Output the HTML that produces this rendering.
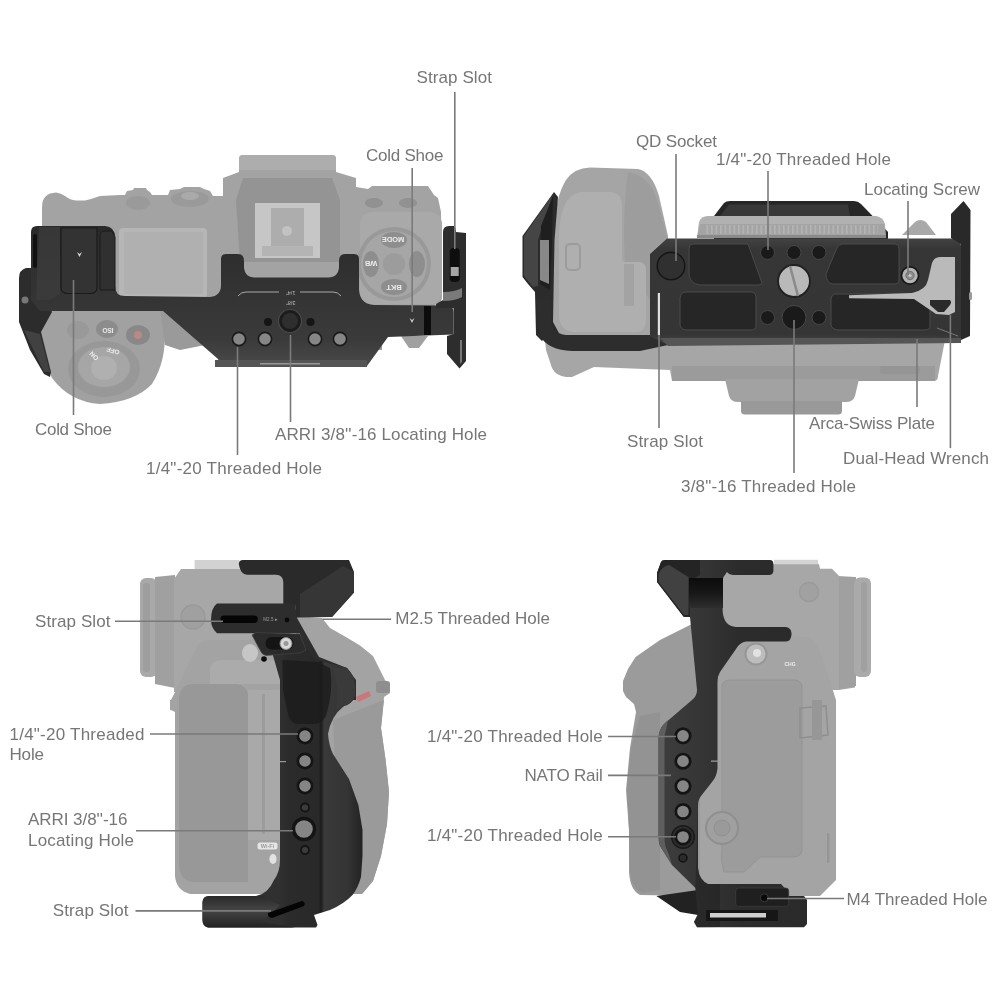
<!DOCTYPE html>
<html lang="en">
<head>
<meta charset="utf-8">
<title>Camera Cage Feature Diagram</title>
<style>
html,body{margin:0;padding:0;background:#fff;}
body{width:1000px;height:1000px;overflow:hidden;}
svg{display:block;will-change:transform;}
.lbl text{font-family:"Liberation Sans",sans-serif;font-size:17px;fill:#767676;}
.ln line,.ln polyline{stroke:#7a7a7a;stroke-width:1.6;fill:none;}
</style>
</head>
<body>
<svg width="1000" height="1000" viewBox="0 0 1000 1000">
<rect width="1000" height="1000" fill="#fff"/>

<!-- Q1: top view -->
<g id="q1">
<defs>
<linearGradient id="g1bar" x1="0" y1="0" x2="0" y2="1"><stop offset="0" stop-color="#2b2b2b"/><stop offset="1" stop-color="#3c3c3c"/></linearGradient>
<linearGradient id="g1pl" x1="0" y1="0" x2="0" y2="1"><stop offset="0" stop-color="#2a2a2a"/><stop offset="0.8" stop-color="#3a3a3a"/><stop offset="1" stop-color="#4a4a4a"/></linearGradient>
</defs>
<!-- camera body -->
<path fill="#a3a3a3" d="M42,208 L42.5,202 Q44,196 50,193.5 L56,192.5 Q61,193 65,196 Q70,200 76,200.5 L85,200.5 Q92,199 100,196 L120,195 L125,195 L127,191 L133,190 L134,188 L146,188 L147,190 L150,192 L152,195 L168,195 L170,190 L180,189 L184,187 L200,187 L204,189 L210,191 L213,196 L223,196 L223,178 L239,172 L239,159 Q239,155 243,155 L332,155 Q336,155 336,159 L336,172 L356,178 L356,187 L368,189 L372,186 L428,186 L434,195 L438,198 L441,212 L442,297 Q442,303 436,304 L420,330 L60,330 L42,300 Z"/>
<!-- viewfinder darker step -->
<path fill="#949494" d="M243,178 L332,178 L340,200 L340,262 L240,262 L236,200 Z"/><path fill="#adadad" d="M243,155 L332,155 Q336,155 336,159 L336,170 L239,170 L239,159 Q239,155 243,155 Z"/>
<!-- hot shoe -->
<rect x="255" y="203" width="65" height="55" fill="#c6c6c6"/>
<rect x="271" y="208" width="33" height="44" fill="#adadad"/><rect x="262" y="246" width="51" height="10" fill="#b4b4b4"/>
<circle cx="287" cy="231" r="5" fill="#c2c2c2"/>
<!-- LCD -->
<rect x="119" y="228" width="88" height="70" rx="4" fill="#b6b6b6"/>
<rect x="124" y="232" width="79" height="62" rx="2" fill="#b0b0b0"/>
<!-- left dials -->
<ellipse cx="138" cy="203" rx="12" ry="7" fill="#9a9a9a"/>
<ellipse cx="190" cy="199" rx="19" ry="8" fill="#9a9a9a"/><ellipse cx="190" cy="196" rx="9" ry="4" fill="#aaa"/>
<!-- right control pad -->
<rect x="360" y="212" width="82" height="92" rx="12" fill="#a9a9a9"/>
<circle cx="394" cy="264" r="37" fill="#999"/>
<circle cx="394" cy="264" r="33" fill="#a6a6a6"/>
<ellipse cx="394" cy="240" rx="13" ry="8" fill="#8e8e8e"/>
<ellipse cx="394" cy="287" rx="13" ry="8" fill="#8e8e8e"/>
<ellipse cx="371" cy="264" rx="8" ry="13" fill="#8e8e8e"/>
<ellipse cx="417" cy="264" rx="8" ry="13" fill="#8e8e8e"/>
<circle cx="394" cy="264" r="11" fill="#9c9c9c"/>
<ellipse cx="374" cy="203" rx="9" ry="5" fill="#919191"/>
<ellipse cx="408" cy="203" rx="9" ry="5" fill="#919191"/>
<!-- grip -->
<path fill="#a1a1a1" d="M40,320 L40,335 Q44,362 52,378 Q70,402 100,404 Q135,402 152,384 Q166,362 165,330 L160,308 L50,308 Z"/>
<path fill="#9a9a9a" d="M160,308 L200,308 L205,345 L180,350 L165,345 Z"/>
<ellipse cx="104" cy="369" rx="36" ry="28" fill="#989898"/>
<ellipse cx="104" cy="367" rx="26" ry="20" fill="#a6a6a6"/>
<ellipse cx="104" cy="368" rx="13" ry="12" fill="#b0b0b0"/>
<ellipse cx="78" cy="330" rx="11" ry="9" fill="#999"/>
<ellipse cx="107" cy="329" rx="11" ry="9" fill="#8c8c8c"/>
<ellipse cx="138" cy="335" rx="12" ry="10" fill="#888"/>
<circle cx="138" cy="335" r="4" fill="#b88"/>
<path fill="#a0a0a0" d="M401,336 L428,336 L419,348 L409,348 Z"/>
<rect x="374" y="338" width="8" height="12" fill="#999"/>
<!-- cage: left arm -->
<path fill="#2c2c2c" d="M19,278 Q19,270 26,268 L34,268 L52,312 L41,332 L51,372 L50,377 L44,374 L30,350 L19,322 Z"/>
<path fill="#555" d="M24,330 L40,334 L50,372 L44,372 Z" opacity="0.5"/>
<!-- cage: main top plate -->
<path fill="url(#g1pl)" d="M31,232 Q31,226 37,226 L105,226 Q115,227 115,237 L115,286 Q115,296 125,296 L210,297 Q221,296 221,285 L221,259 Q221,254 226,254 L238,254 Q244,254 244,261 L244,268 Q245,277 254,277.5 L329,277.5 Q338,277 339,268 L339,261 Q339,254 345,254 L354,254 Q359,254 359,259 L359,290 Q360,304 374,305 L447,305.5 Q453.5,305.5 453.5,312 L453.5,334.5 L388,337 L367,366 L222,367 L218,359 L163,311 L40,311 L31,300 Z"/>
<rect x="215" y="360" width="152" height="7" fill="#555"/>
<!-- cold shoe left -->
<path fill="#333" stroke="#1b1b1b" stroke-width="1.2" d="M61,228 L97,228 L97,287 Q97,293.5 90,293.5 L68,293.5 Q61,293.5 61,287 Z"/>
<path fill="#303030" stroke="#1b1b1b" stroke-width="1" d="M100,236 Q100,231 105,231 L112,231 L115,237 L115,290 L100,290 Z"/><path fill="#3d3d3d" d="M39,227 L60,227 L60,294 L50,300 L36,300 Z" opacity="0.7"/>
<path fill="#ddd" d="M77,252 L79.5,257 L82,252 L79.5,254 Z"/>
<rect x="33" y="234" width="4" height="34" rx="2" fill="#111"/>
<circle cx="25" cy="300" r="3.5" fill="#777"/>
<!-- plate markings -->
<path fill="none" stroke="#b5b5b5" stroke-width="0.9" d="M238,296 Q241,292 246,292 L279,292 M300,292 L333,292 Q338,292 341,296"/>
<!-- holes -->
<g fill="#868686" stroke="#1a1a1a" stroke-width="1.6">
<circle cx="239" cy="339" r="6.6"/><circle cx="265" cy="339" r="6.6"/><circle cx="315" cy="339" r="6.6"/><circle cx="340" cy="339" r="6.6"/>
</g>
<circle cx="290" cy="321" r="11.5" fill="#1c1c1c" stroke="#4a4a4a" stroke-width="1.2"/>
<circle cx="290" cy="321" r="8" fill="#2e2e2e"/>
<circle cx="268" cy="322" r="4" fill="#151515"/><circle cx="310.5" cy="322" r="4" fill="#151515"/>
<rect x="260" y="363" width="60" height="1.5" fill="#999"/>
<!-- right bar details -->
<rect x="424" y="306" width="7" height="29" fill="#0c0c0c"/>
<path fill="#ccc" d="M409.5,318 L412,323 L414.5,318 L412,320 Z"/>
<!-- right bracket -->
<path fill="#2d2d2d" d="M443,232 Q443,226 449,226 L455,226 L456,232 L466,233 L466,361 L459.5,368.5 L447,354 L447,336 L453.5,334 L453.5,308 L436,308 L436,304 L443,300 Z"/>
<path fill="#7a7a7a" d="M443,292 Q455,292 462,288 L462,297 Q455,301 443,301 Z"/>
<rect x="449.7" y="248" width="10" height="34" rx="4" fill="#0e0e0e"/>
<rect x="450.7" y="267" width="8" height="9" fill="#a5a5a5"/>
<path fill="#777" d="M460,340 L462,340 L462,362 L460,364 Z"/>
<g font-family="Liberation Sans, sans-serif" font-weight="bold" fill="#ececec" text-anchor="middle">
<text x="393" y="240" font-size="7.5" transform="rotate(180 393 240)" dy="2.6">MODE</text>
<text x="371" y="264" font-size="7.5" transform="rotate(180 371 264)" dy="2.6">WB</text>
<text x="394" y="287.5" font-size="7.5" transform="rotate(180 394 287.5)" dy="2.6">BKT</text>
<text x="108" y="330" font-size="6.5" transform="rotate(180 108 330)" dy="2.3">ISO</text>
<text x="113" y="351" font-size="6.5" transform="rotate(196 113 351)" dy="2.3">OFF</text>
<text x="94" y="356" font-size="6.5" transform="rotate(225 94 356)" dy="2.3">ON</text>
<text x="290.6" y="292.5" font-size="5.5" fill="#bdbdbd" font-weight="normal" transform="rotate(180 290.6 292.5)" dy="2">1/4"</text>
<text x="290.6" y="303" font-size="5.5" fill="#bdbdbd" font-weight="normal" transform="rotate(180 290.6 303)" dy="2">3/8"</text>
</g>
</g>

<!-- Q2: bottom view -->
<g id="q2">
<defs>
<linearGradient id="g2pl" x1="0" y1="0" x2="0" y2="1"><stop offset="0" stop-color="#424242"/><stop offset="0.1" stop-color="#363636"/><stop offset="0.9" stop-color="#353535"/><stop offset="1" stop-color="#484848"/></linearGradient>
</defs>
<!-- top cage piece behind lens ring -->
<path fill="#262626" d="M714,216 L724,203 Q726,201 730,201 L854,201 Q858,201 861,204 L888,232 L888,240 L714,240 Z"/>
<path fill="#383838" d="M729,204.5 L848,204.5 L850,216 L720,216 Z"/>
<!-- lens ring -->
<path fill="#b1b1b1" d="M697,238 L699,222 Q701,216 708,216 L876,216 Q883,217 885,224 L886,238 Z"/>
<path fill="#a4a4a4" d="M700,224 L884,224 L886,238 L697,238 Z"/><pattern id="ribs" width="4.5" height="10" patternUnits="userSpaceOnUse"><rect x="0" y="0" width="1.6" height="10" fill="#b4b4b4"/></pattern><rect x="706" y="225" width="172" height="9" fill="url(#ribs)"/><rect x="697" y="235" width="189" height="3" fill="#8a8a8a"/>
<path fill="#a9a9a9" d="M902,235 L915,222 Q920,218 926,222 L936,235 Z"/>
<!-- camera body bottom (below plate) -->
<path fill="#a6a6a6" d="M545,340 L546,350 L552,368 Q556,376 566,377 L572,377 L594,367 L670,370 L672,381 L935,381 Q938,380 938,376 L945,340 Z"/>
<path fill="#9b9b9b" d="M672,366 L935,366 L935,381 L672,381 Z"/>
<path fill="#a2a2a2" d="M725,379 L859,379 L855,396 Q853,402 846,402 L738,402 Q731,402 729,396 Z"/>
<path fill="#999" d="M741,401 L842,401 L842,411 Q842,414.5 838,414.5 L745,414.5 Q741,414.5 741,411 Z"/>
<rect x="880" y="366" width="40" height="8" rx="3" fill="#959595"/>
<!-- grip -->
<path fill="#a5a5a5" d="M551,322 L553,230 Q556,196 566,180 Q574,168 590,167.5 L638,169 Q652,172 659,196 L668,236 L668,340 L560,340 Q551,335 551,322 Z"/>
<path fill="#9d9d9d" d="M628,172 Q650,176 657,200 L667,238 L650,252 L650,300 L625,262 Q622,215 628,172 Z"/>
<!-- battery door -->
<path fill="#afafaf" d="M559,240 Q559,196 580,192 L612,192 Q622,194 622,206 L622,258 Q622,262 626,262 L640,262 Q646,263 646,270 L646,322 Q645,332 636,332 L574,332 Q560,331 559,316 Z"/>
<rect x="566" y="244" width="14" height="26" rx="4" fill="none" stroke="#9c9c9c" stroke-width="2"/>
<rect x="624" y="264" width="10" height="42" fill="#a3a3a3"/>
<!-- left bracket -->
<path fill="#2b2b2b" d="M554,192 L558,197 L554.5,240 L553,322 L560,335 L548,335 L542,341 L536,335 L535,292 L528,284 L522.5,277 L522.5,236 Z"/>
<path fill="#454545" d="M553,194 L524,236 L524,276 L533,287 L538,286 L538,240 Z"/><path fill="#1f1f1f" d="M553,196 L541,226 L540,284 L550,290 L552,240 Z"/>
<path fill="#888" d="M540,240 L549,240 L549,284 L540,280 Z"/>
<!-- L frame bottom bar -->
<path fill="#2d2d2d" d="M536,300 L551,300 L551,318 Q552,334 566,335 L668,335 L668,345 L640,351 L572,351 Q548,350 540,336 Z"/>
<!-- main plate -->
<path fill="url(#g2pl)" d="M650,254 L667,238.5 L954,238.5 Q961,239 961,246 L961,342 L668,345 L650,336 Z"/>
<path fill="#555" d="M660,338 L961,338 L961,343 L668,346 Z"/>
<rect x="657.8" y="293" width="2.2" height="42" fill="#e0e0e0"/>
<!-- right bracket -->
<path fill="#292929" d="M951,214 L963.5,201 L970.5,210 L970,336 L961,340 L961,244 L951,238 Z"/>
<rect x="969" y="292" width="3" height="8" rx="1.5" fill="#999"/>
<!-- pockets -->
<g fill="#262626" stroke="#4a4a4a" stroke-width="1">
<path d="M693,244 L748,244 L762,283 Q762,285 758,285 L700,285 Q690,284 689,274 L689,248 Q689,244 693,244 Z"/>
<path d="M686,292 L752,292 Q756,293 756,297 L756,326 Q756,330 751,330 L686,330 Q680,329 680,324 L680,298 Q681,292 686,292 Z"/>
<path d="M842,244 L894,244 Q899,244 899,249 L899,280 Q899,284 894,284 L832,284 Q826,282 826,274 L836,250 Q838,244 842,244 Z"/>
<path d="M836,294 L900,294 L930,294 L930,326 Q930,330 925,330 L838,330 Q831,329 831,324 L831,299 Q832,294 836,294 Z"/>
</g>
<!-- QD socket -->
<circle cx="671" cy="266" r="13.8" fill="#303030" stroke="#161616" stroke-width="1.5"/>
<!-- holes -->
<g fill="#1a1a1a" stroke="#474747" stroke-width="1">
<circle cx="767.5" cy="252.5" r="7"/><circle cx="794" cy="252.5" r="7"/><circle cx="819" cy="252.5" r="7"/>
<circle cx="767.5" cy="317.5" r="7"/><circle cx="819" cy="317.5" r="7"/>
<circle cx="794" cy="317.5" r="12"/>
</g>
<circle cx="794" cy="281" r="16" fill="#b9b9b9" stroke="#222" stroke-width="2"/>
<path d="M790,266 L798,296" stroke="#8a8a8a" stroke-width="2.5"/>
<circle cx="910" cy="275.5" r="8.6" fill="#b4b4b4" stroke="#1a1a1a" stroke-width="1.8"/>
<circle cx="910" cy="275.5" r="4.2" fill="#8c8c8c" stroke="#666" stroke-width="0.8"/><circle cx="910" cy="275.5" r="1.6" fill="#c8c8c8"/>
<!-- wrench -->
<path fill="#bababa" d="M849,295.3 L912,293 Q926,290 928,280 L932,263 Q934,257 940,257 L955,257 L955,312 L949,315 L936,314 L914,299 L849,298.3 Z"/>
<path fill="#2a2a2a" d="M930,300 L950,300 Q952,302 950,305 L944,312 L938,312 L930,305 Z"/>
<path stroke="#777" stroke-width="1" d="M937,328 L958,336"/>
</g>

<!-- Q3: right side view -->
<g id="q3">
<defs>
<linearGradient id="g3h" gradientUnits="userSpaceOnUse" x1="280" y1="0" x2="362" y2="0"><stop offset="0" stop-color="#303030"/><stop offset="0.1" stop-color="#2b2b2b"/><stop offset="0.47" stop-color="#292929"/><stop offset="0.5" stop-color="#1c1c1c"/><stop offset="0.54" stop-color="#393939"/><stop offset="0.82" stop-color="#343434"/><stop offset="1" stop-color="#242424"/></linearGradient>
<linearGradient id="g3b" x1="0" y1="0" x2="0" y2="1"><stop offset="0" stop-color="#2a2a2a"/><stop offset="0.45" stop-color="#444"/><stop offset="1" stop-color="#222"/></linearGradient>
</defs>
<!-- eyecup + viewfinder -->
<rect x="140" y="578" width="17" height="99" rx="6" fill="#a9a9a9"/>
<rect x="143" y="583" width="7" height="89" rx="3" fill="#9e9e9e"/>
<path fill="#a0a0a0" d="M155,577 L175,575 L175,688 L155,684 Z"/>
<rect x="194.6" y="560" width="45" height="10" fill="#d2d2d2"/>
<path fill="#a7a7a7" d="M174,579 L181,569 L290,569 L290,692 L174,692 Z"/>
<circle cx="193" cy="617" r="12" fill="#a0a0a0" stroke="#999" stroke-width="1.5"/>
<!-- camera body -->
<path fill="#a3a3a3" d="M171,700 L176,690 L196,648 Q200,640 210,640 L296,640 L296,616 L322,618 L330,628 L345,636.5 L360,645.5 L373,656 L385,680 L390,686 L390,693 L384,697 L381,728 L385.6,760 L389,792 L387,824 L381,856 L373,881 L362,894 L190,894 Q176,890 175,876 L175,712 L171,710 Z"/>
<path fill="#989898" d="M179,698 Q180,685 192,684 L236,684 Q246,685 248,694 L248,882 L192,882 Q180,880 179,866 Z"/>
<path fill="#ababab" d="M210,668 Q212,660 222,660 L280,660 L280,684 L210,684 Z"/>
<rect x="248" y="690" width="32" height="150" fill="#a9a9a9"/><rect x="262" y="694" width="3" height="140" fill="#9c9c9c"/><rect x="170" y="700" width="6" height="10" fill="#a3a3a3"/>
<path fill="#9a9a9a" d="M333,720 L384,700 L381,728 L385.6,760 L389,792 L387,824 L381,856 L373,881 L362,894 L340,894 Z"/>
<path fill="#c77" d="M356,697 L369,691 L371,696 L358,702 Z"/>
<rect x="376" y="681" width="14" height="12" rx="3" fill="#8e8e8e"/>
<ellipse cx="250" cy="653" rx="8" ry="9" fill="#c6c6c6"/>
<!-- cage top block -->
<path fill="#2a2a2a" d="M238.8,564 Q239,560 243,560 L349,560 L354,572 L354,592.5 L332,617 L296,617.5 L295,604 L283.3,604 L283.3,582 Q283,575 276,574.7 L247,574.7 Q240,574 238.8,564 Z"/>
<path fill="#363636" d="M300,594 L343,566 L354,572 L354,592.5 L332,617 L300,617 Z"/>
<!-- strap arm -->
<path fill="#2d2d2d" d="M217,603.6 L295,603.6 L297,618 L319,657 L347,668 L356,680 L356,700 L300,700 L300,633.3 L217,633.3 Q211,628 211,620 Q211,608 217,603.6 Z"/>
<rect x="220.4" y="615.5" width="37.4" height="7.5" rx="3.7" fill="#050505"/>
<circle cx="287" cy="620" r="2.4" fill="#0a0a0a"/>
<!-- handle -->
<path fill="url(#g3h)" d="M272,652 L300,640 L316,660 L347,668 Q355,676 355,686 L355,696 Q352,704 344,706 Q331,716 328,734 Q329,746 333,754 L349,779 L358.4,805 L362.5,830 L362.5,856 L361,877 Q358,888 352.5,895 Q344,904 330,910 L314,915 L317.5,925 L316,927.5 L208,927.5 Q202.5,926 202.5,920 L202.5,902 Q203,896 209,896 L256,896 Q268,894 274,880 Q280,872 280,860 L280,680 Z"/>
<path fill="url(#g3b)" d="M202.5,902 Q203,896 209,896 L262,896 L280,905 L262,922 L295,927.5 L208,927.5 Q202.5,926 202.5,920 Z"/>
<path fill="#1c1c1c" d="M282.5,660 L318,662 L330,668 Q334,690 326,716 Q322,724 314,724 L296,724 Q290,722 288,714 L283,690 Z" opacity="0.8"/><path fill="#3a3a3a" d="M332,667 L347,669 Q355,676 355,686 L355,696 Q352,704 344,706 L336,710 Q340,690 332,667 Z"/>
<path fill="#050505" d="M268,913 L302,901 Q306,902 304,906 L272,918 Q267,917 268,913 Z"/>
<!-- clip -->
<path fill="#2b2b2b" stroke="#444" stroke-width="0.7" d="M252,635 L256,632.5 L300,634 L306,650 L300,653 L266,655.4 Q262,655 260,650 Z"/>
<rect x="265.5" y="637" width="28" height="12.5" rx="6" fill="#141414"/>
<circle cx="286" cy="643.5" r="6" fill="#d8d8d8" stroke="#888" stroke-width="1"/>
<circle cx="286" cy="643.5" r="2.5" fill="#999"/>
<circle cx="264" cy="659" r="2.8" fill="#0c0c0c"/>
<!-- holes -->
<g fill="#858585" stroke="#141414" stroke-width="2.6">
<circle cx="305" cy="736" r="7.1"/><circle cx="305" cy="761" r="7.1"/><circle cx="305" cy="786" r="7.1"/>
</g>
<circle cx="305" cy="807.5" r="4" fill="#3c3c3c" stroke="#141414" stroke-width="1.8"/>
<circle cx="304" cy="829" r="10.5" fill="#858585" stroke="#141414" stroke-width="3.4"/>
<circle cx="305" cy="850" r="4" fill="#3c3c3c" stroke="#141414" stroke-width="1.8"/>
<rect x="280" y="761" width="6" height="1.2" fill="#999"/>
<rect x="257.5" y="842.5" width="20" height="7" rx="2.5" fill="#e6e6e6"/>
<text x="267.5" y="848.2" font-family="Liberation Sans, sans-serif" font-size="5.5" font-weight="bold" fill="#9a9a9a" text-anchor="middle">Wi-Fi</text>
<ellipse cx="273" cy="859" rx="3.6" ry="5" fill="#e2e2e2"/>
<text x="270.5" y="621.4" font-family="Liberation Sans, sans-serif" font-size="4.6" fill="#9a9a9a" text-anchor="middle">M2.5 ▸</text>
</g>

<!-- Q4: left side view -->
<g id="q4">
<defs>
<linearGradient id="g4v" x1="0" y1="0" x2="1" y2="0"><stop offset="0" stop-color="#3e3e3e"/><stop offset="0.3" stop-color="#353535"/><stop offset="0.55" stop-color="#2c2c2c"/><stop offset="1" stop-color="#2a2a2a"/></linearGradient>
</defs>
<!-- hot shoe strip, viewfinder, eyecup -->
<rect x="774" y="559.8" width="44" height="6" fill="#d4d4d4"/>
<path fill="#a7a7a7" d="M718,564.3 L819,564.3 L820,568.8 L832,568.8 L839,576 L855,577 L855,687.6 L839,690 L718,690 Z"/>
<path fill="#a0a0a0" d="M839,577 L856,577 L856,686 L839,689 Z"/>
<rect x="854" y="577.5" width="17" height="99.5" rx="6" fill="#aaa"/>
<rect x="861" y="582" width="6" height="90" rx="3" fill="#a0a0a0"/>
<circle cx="809" cy="592" r="9.5" fill="#a1a1a1" stroke="#9a9a9a" stroke-width="1.5"/>
<!-- grip (left, gray) -->
<path fill="#9b9b9b" d="M700,620 L680,630 L660,640 L635.6,657 L628,669 L623,681 L623,691 L626,697 L634,704 L636,712 L630,748 L626,790 L629,830 L629,872 Q630,890 640,895 L700,896 Z"/>
<path fill="#939393" d="M640,716 L660,712 L660,890 L642,893 Q631,888 630,870 L629,830 L627,790 L631,748 Z"/>
<!-- camera body -->
<path fill="#a4a4a4" d="M700,640 L790,636 L806,637 Q816,640 820,652 L832,687.6 L836,700 L836,880 L820,896 L700,896 Z"/>
<path fill="#9c9c9c" d="M722,686 Q723,680 730,680 L796,680 Q802,681 802,688 L802,850 Q801,857 794,857 L760,857 L744,872 L724,872 Q720,860 722,850 Z" stroke="#949494" stroke-width="1"/>
<path fill="none" stroke="#8e8e8e" stroke-width="1.5" d="M800,708 L826,706 L828,735 L800,738 Z"/>
<rect x="812" y="700" width="10" height="40" fill="#979797"/>
<rect x="827" y="833" width="2.5" height="30" rx="1" fill="#959595"/>
<circle cx="756" cy="654" r="10.5" fill="#bdbdbd" stroke="#979797" stroke-width="2"/>
<circle cx="757" cy="653" r="4" fill="#e2e2e2"/>
<circle cx="722" cy="828" r="16" fill="#a0a0a0" stroke="#8f8f8f" stroke-width="2"/>
<circle cx="722" cy="828" r="8" fill="#9a9a9a" stroke="#909090" stroke-width="1"/>
<!-- cage: base perspective wedge -->
<path fill="#222" d="M656.4,896 L698,890 L698,915 L680,912 Z"/>
<!-- cage: vertical + top -->
<path fill="url(#g4v)" d="M657,573 L661,562 Q662,560 665,560 L770,560 Q773.4,560 773.4,564 L773.4,571 Q773,575 769,575 L734,575 Q729,575 727,572 L723.5,577 L722.2,582 L722.7,612 Q724,626 736,627 L786,627 Q791.6,628 791.6,634 Q791,641.5 786,641.5 L746,641.5 Q740,642 736,649 L720,672 Q717.5,676 717.5,682 L717.5,768 Q717,776 712,782 L701,796 Q698,800 698,806 L698,868 Q699,880 708,884 L781,884 L786.4,890 L786.4,896 L804,896 L807,900 L807,924 L804,927.2 L697,927.2 L694,922 L698,914 L695.4,888 L672,865 L660,846 Q658.5,842 658.5,836 L658.5,738 Q659,729 664,724 L692,700 Q697,696 697,690 L690,617 L683.7,616.7 L657,582 Z"/>
<path fill="#242424" d="M657,573 L661,562 Q662,560 665,560 L700,560 L700,575 L690,580 L690,617 L683.7,616.7 L657,582 Z"/>
<path fill="#414141" d="M658.5,574 Q662,566 669,565 L688.5,577 L688.5,615 L684,615 L658.5,582 Z"/>
<linearGradient id="g4k" x1="0" y1="0" x2="0" y2="1"><stop offset="0" stop-color="#0c0c0c"/><stop offset="0.5" stop-color="#171717"/><stop offset="1" stop-color="#2e2e2e"/></linearGradient><rect x="689" y="578" width="34" height="30" fill="url(#g4k)"/>
<path fill="#1d1d1d" d="M698,806 L698,868 Q699,880 708,884 L720,884 L720,927 L697,927.2 L694,922 L698,914 L695.4,888 Z" opacity="0.5"/>
<!-- base details -->
<rect x="735.7" y="888" width="53" height="18.4" rx="3" fill="#1f1f1f" stroke="#3c3c3c" stroke-width="0.8"/>
<circle cx="764.3" cy="897.8" r="4" fill="#0a0a0a" stroke="#444" stroke-width="0.8"/>
<rect x="706" y="910" width="72" height="11" fill="#161616"/>
<rect x="710" y="913" width="56" height="4.5" fill="#cfcfcf"/>
<!-- holes -->
<circle cx="683" cy="837" r="11.3" fill="#2c2c2c" stroke="#191919" stroke-width="1.4"/>
<g fill="#858585" stroke="#141414" stroke-width="2.7">
<circle cx="683" cy="735.8" r="7.2"/><circle cx="683" cy="761.2" r="7.2"/><circle cx="683" cy="786.2" r="7.2"/><circle cx="683" cy="811.5" r="7.2"/><circle cx="683" cy="837" r="7.2"/>
</g>
<circle cx="683" cy="858" r="4" fill="#2a2a2a" stroke="#121212" stroke-width="1.5"/>
<path fill="#5e5e5e" d="M658.5,738 Q659,729 664,724 L668,720 L666,730 Q664.5,734 664.5,740 L664.5,838 Q664.5,846 668,852 L672,865 L660,846 Q658.5,842 658.5,836 Z"/>
<rect x="711" y="760.5" width="7" height="1.3" fill="#999"/>
<text x="790" y="666" font-family="Liberation Sans, sans-serif" font-size="5" font-weight="bold" fill="#ececec" text-anchor="middle">CHG</text>
</g>

<!-- leader lines -->
<g class="ln" id="lines">
<line x1="454.8" y1="92" x2="454.8" y2="249"/>
<line x1="412.2" y1="168" x2="412.2" y2="312"/>
<line x1="73.5" y1="280" x2="73.5" y2="415"/>
<line x1="237.5" y1="347" x2="237.5" y2="455"/>
<line x1="290.5" y1="335" x2="290.5" y2="422"/>
<line x1="676" y1="154" x2="676" y2="261"/>
<line x1="768" y1="171" x2="768" y2="250"/>
<line x1="908" y1="201" x2="908" y2="275"/>
<line x1="659" y1="335" x2="659" y2="428"/>
<line x1="794" y1="320" x2="794" y2="473"/>
<line x1="917" y1="339" x2="917" y2="407"/>
<line x1="950.4" y1="315" x2="950.4" y2="448"/>
<line x1="115" y1="621.3" x2="223" y2="621.3"/>
<line x1="150" y1="734" x2="298" y2="734"/>
<line x1="136" y1="830.8" x2="293" y2="830.8"/>
<line x1="135.5" y1="910.9" x2="271" y2="910.9"/>
<line x1="322.5" y1="619.2" x2="391" y2="619.2"/>
<line x1="608" y1="736.5" x2="676" y2="736.5"/>
<line x1="608" y1="775.4" x2="671" y2="775.4"/>
<line x1="608" y1="836.7" x2="676" y2="836.7"/>
<line x1="767" y1="898.5" x2="844" y2="898.5"/>
</g>

<!-- labels -->
<g class="lbl" id="labels">
<text x="416.6" y="83" textLength="75.4">Strap Slot</text>
<text x="366" y="161" textLength="77.4">Cold Shoe</text>
<text x="35" y="435" textLength="77">Cold Shoe</text>
<text x="275" y="440" textLength="212">ARRI 3/8''-16 Locating Hole</text>
<text x="146" y="474" textLength="176">1/4"-20 Threaded Hole</text>
<text x="636" y="146.5" textLength="81">QD Socket</text>
<text x="716" y="165" textLength="175">1/4"-20 Threaded Hole</text>
<text x="864" y="195" textLength="116">Locating Screw</text>
<text x="627" y="447" textLength="76">Strap Slot</text>
<text x="809" y="429" textLength="126">Arca-Swiss Plate</text>
<text x="843" y="463.5" textLength="146">Dual-Head Wrench</text>
<text x="681" y="492" textLength="175">3/8"-16 Threaded Hole</text>
<text x="35" y="626.7" textLength="75.5">Strap Slot</text>
<text x="9.5" y="739.6" textLength="135">1/4"-20 Threaded</text>
<text x="9.5" y="759.6" textLength="34.5">Hole</text>
<text x="28" y="825.4" textLength="99.5">ARRI 3/8''-16</text>
<text x="28" y="845.8" textLength="106">Locating Hole</text>
<text x="52.7" y="915.8" textLength="75.8">Strap Slot</text>
<text x="395.3" y="624" textLength="154.7">M2.5 Threaded Hole</text>
<text x="427" y="742" textLength="175.8">1/4"-20 Threaded Hole</text>
<text x="524.5" y="781" textLength="78.3">NATO Rail</text>
<text x="427" y="840.7" textLength="175.8">1/4"-20 Threaded Hole</text>
<text x="846.5" y="905" textLength="141">M4 Threaded Hole</text>
</g>
</svg>
</body>
</html>
